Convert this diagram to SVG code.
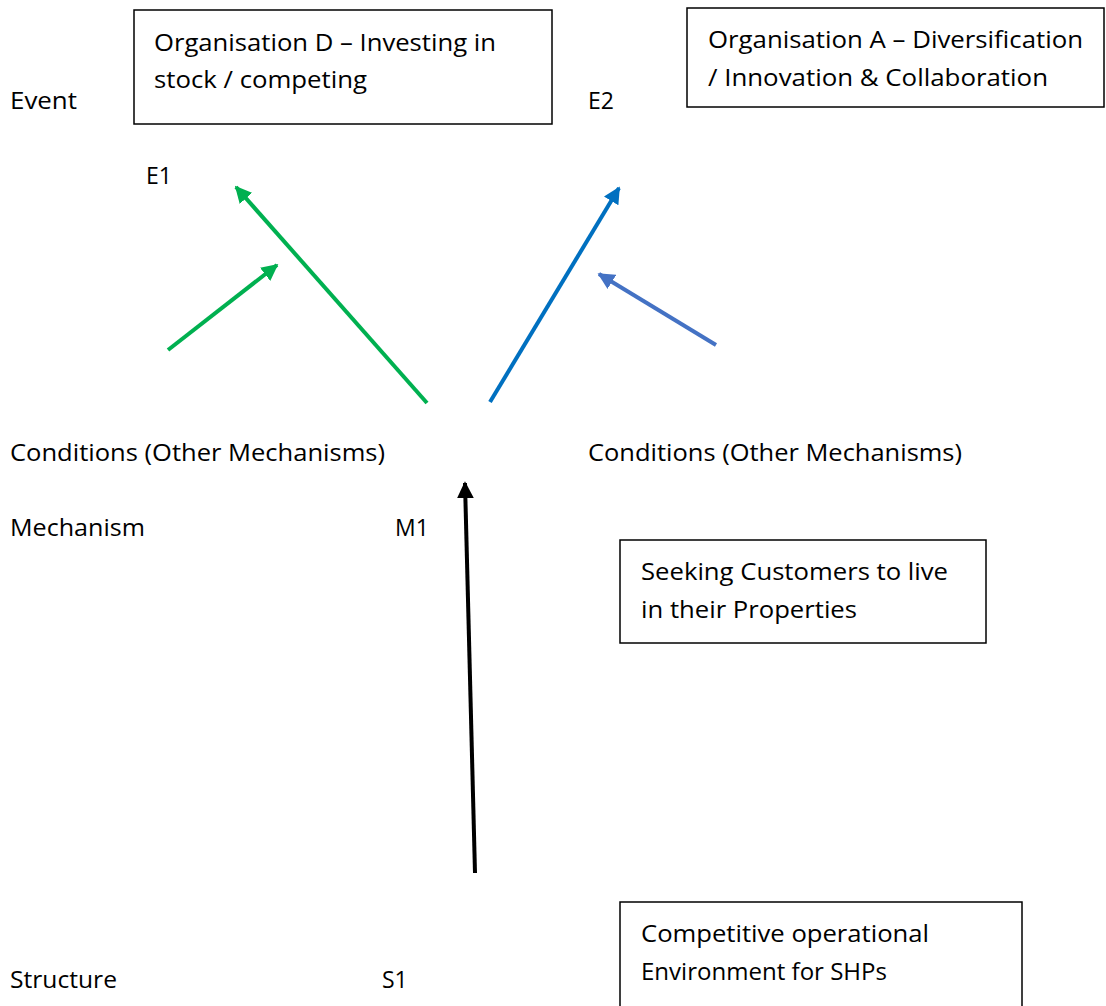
<svg xmlns="http://www.w3.org/2000/svg" width="1106" height="1006" viewBox="0 0 1106 1006">
  <style>
    text { font-family: "Open Sans", "Liberation Sans", Arial, sans-serif; font-size: 23px; fill: #000; }
    .box { fill: #fff; stroke: #000; stroke-width: 1.5; }
    .link { fill: none; stroke-width: 4; }
  </style>
  <defs>
    <marker id="ah-green" viewBox="0 0 10 10" refX="9" refY="5" markerWidth="4.2" markerHeight="4.2" orient="auto" markerUnits="strokeWidth">
      <path d="M0,0 L10,5 L0,10 Z" fill="#00B050"/>
    </marker>
    <marker id="ah-blue" viewBox="0 0 10 10" refX="9" refY="5" markerWidth="4.2" markerHeight="4.2" orient="auto" markerUnits="strokeWidth">
      <path d="M0,0 L10,5 L0,10 Z" fill="#0070C0"/>
    </marker>
    <marker id="ah-lblue" viewBox="0 0 10 10" refX="9" refY="5" markerWidth="4.2" markerHeight="4.2" orient="auto" markerUnits="strokeWidth">
      <path d="M0,0 L10,5 L0,10 Z" fill="#4472C4"/>
    </marker>
    <marker id="ah-black" viewBox="0 0 10 10" refX="9" refY="5" markerWidth="4.2" markerHeight="4.2" orient="auto" markerUnits="strokeWidth">
      <path d="M0,0 L10,5 L0,10 Z" fill="#000"/>
    </marker>
  </defs>

  <rect width="1106" height="1006" fill="#fff"/>

  <!-- level labels -->
  <g id="labels">
    <text x="10" y="109" textLength="67" lengthAdjust="spacingAndGlyphs">Event</text>
    <text x="588" y="109">E2</text>
    <text x="146" y="184">E1</text>
    <text x="10" y="461" textLength="375" lengthAdjust="spacingAndGlyphs">Conditions (Other Mechanisms)</text>
    <text x="588" y="461" textLength="374" lengthAdjust="spacingAndGlyphs">Conditions (Other Mechanisms)</text>
    <text x="10" y="536" textLength="135" lengthAdjust="spacingAndGlyphs">Mechanism</text>
    <text x="395" y="536">M1</text>
    <text x="10" y="988" textLength="107" lengthAdjust="spacingAndGlyphs">Structure</text>
    <text x="382" y="988">S1</text>
  </g>

  <g id="node-org-d">
    <rect class="box" x="134" y="10" width="418" height="114"/>
    <text x="154" y="51" textLength="342" lengthAdjust="spacingAndGlyphs">Organisation D – Investing in</text>
    <text x="154" y="88" textLength="213" lengthAdjust="spacingAndGlyphs">stock / competing</text>
  </g>

  <g id="node-org-a">
    <rect class="box" x="687" y="8" width="417" height="99"/>
    <text x="708" y="48" textLength="375" lengthAdjust="spacingAndGlyphs">Organisation A – Diversification</text>
    <text x="708" y="86" textLength="340" lengthAdjust="spacingAndGlyphs">/ Innovation &amp; Collaboration</text>
  </g>

  <g id="node-m1">
    <rect class="box" x="620" y="540" width="366" height="103"/>
    <text x="641" y="580" textLength="307" lengthAdjust="spacingAndGlyphs">Seeking Customers to live</text>
    <text x="641" y="618" textLength="216" lengthAdjust="spacingAndGlyphs">in their Properties</text>
  </g>

  <g id="node-s1">
    <rect class="box" x="620" y="902" width="402" height="110"/>
    <text x="641" y="942" textLength="288" lengthAdjust="spacingAndGlyphs">Competitive operational</text>
    <text x="641" y="980" textLength="246" lengthAdjust="spacingAndGlyphs">Environment for SHPs</text>
  </g>

  <!-- connectors -->
  <g id="connectors">
    <line class="link" x1="427" y1="403" x2="236" y2="187" stroke="#00B050" marker-end="url(#ah-green)"/>
    <line class="link" x1="168" y1="350" x2="277" y2="265" stroke="#00B050" marker-end="url(#ah-green)"/>
    <line class="link" x1="490" y1="402" x2="619" y2="188" stroke="#0070C0" marker-end="url(#ah-blue)"/>
    <line class="link" x1="716" y1="345" x2="599" y2="274" stroke="#4472C4" marker-end="url(#ah-lblue)"/>
    <line class="link" x1="475" y1="873" x2="465" y2="483" stroke="#000" marker-end="url(#ah-black)"/>
  </g>
</svg>
